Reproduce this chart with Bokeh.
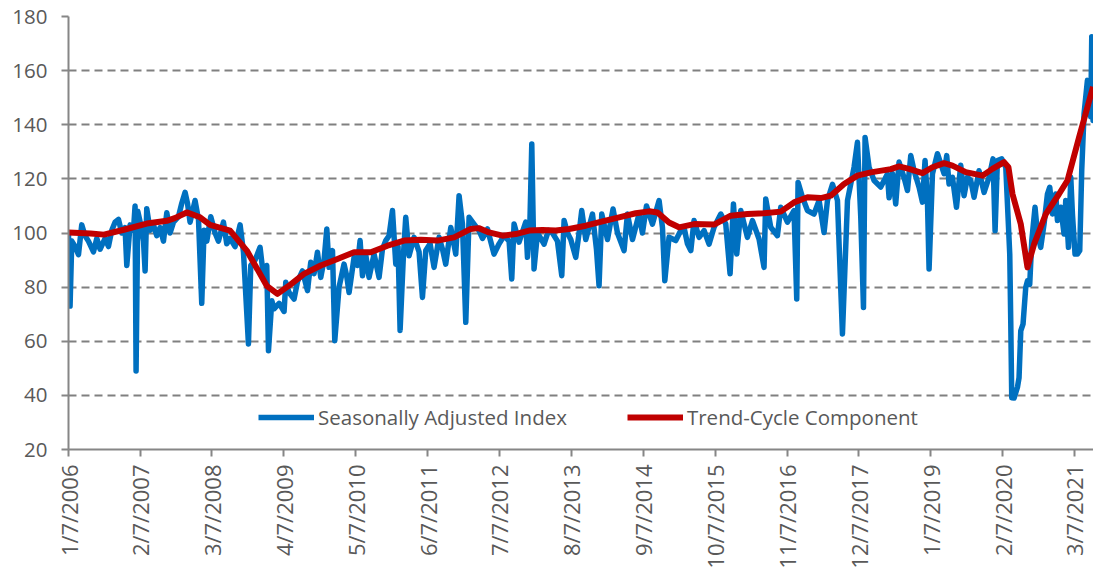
import math
import datetime
from bokeh.plotting import figure
from bokeh.models import Range1d, FixedTicker, Legend, LegendItem, CustomJSTickFormatter
from bokeh.embed import file_html
from bokeh.resources import INLINE

# ---------------- data (dates as decimal years) ----------------
tick_labels = ["1/7/2006", "2/7/2007", "3/7/2008", "4/7/2009", "5/7/2010", "6/7/2011",
               "7/7/2012", "8/7/2013", "9/7/2014", "10/7/2015", "11/7/2016", "12/7/2017",
               "1/7/2019", "2/7/2020", "3/7/2021"]

sa_year = [
    2006.016, 2006.040, 2006.066, 2006.115, 2006.167, 2006.216, 2006.266, 2006.317, 2006.393, 2006.443,
    2006.492, 2006.568, 2006.619, 2006.669, 2006.718, 2006.770, 2006.819, 2006.869, 2006.895, 2006.945,
    2006.996, 2007.020, 2007.035, 2007.061, 2007.106, 2007.147, 2007.171, 2007.196, 2007.246, 2007.297,
    2007.347, 2007.397, 2007.448, 2007.498, 2007.548, 2007.599, 2007.674, 2007.724, 2007.774, 2007.810,
    2007.849, 2007.924, 2007.976, 2008.025, 2008.060, 2008.101, 2008.161, 2008.226, 2008.277, 2008.352,
    2008.402, 2008.452, 2008.527, 2008.603, 2008.654, 2008.729, 2008.764, 2008.829, 2008.904, 2008.955,
    2009.005, 2009.031, 2009.081,
    2009.115, 2009.191, 2009.266, 2009.292, 2009.341, 2009.417, 2009.468, 2009.543, 2009.619, 2009.668,
    2009.718, 2009.769, 2009.819, 2009.869, 2009.910, 2009.944, 2009.996, 2010.030, 2010.095, 2010.170,
    2010.211, 2010.246, 2010.321, 2010.372, 2010.412, 2010.448, 2010.497, 2010.547, 2010.623, 2010.698,
    2010.749, 2010.799, 2010.849, 2010.900, 2010.950, 2010.984, 2011.015, 2011.066, 2011.100, 2011.150,
    2011.226, 2011.301, 2011.352, 2011.402, 2011.467, 2011.527, 2011.602, 2011.654, 2011.703, 2011.779,
    2011.854, 2011.904, 2011.955, 2012.005, 2012.055, 2012.130, 2012.205,
    2012.257, 2012.332, 2012.431, 2012.507, 2012.582, 2012.658, 2012.698, 2012.733, 2012.808, 2012.909,
    2012.935, 2012.969, 2013.000, 2013.034, 2013.086, 2013.135, 2013.185, 2013.252, 2013.312, 2013.387,
    2013.452, 2013.487, 2013.538, 2013.588, 2013.663, 2013.713, 2013.753, 2013.814, 2013.915, 2013.975,
    2014.014, 2014.055, 2014.141, 2014.225, 2014.292, 2014.391, 2014.442, 2014.518, 2014.617, 2014.668,
    2014.729, 2014.819, 2014.919, 2014.970, 2015.005, 2015.069, 2015.170, 2015.246,
    2015.295, 2015.347, 2015.397, 2015.446, 2015.522, 2015.597, 2015.672, 2015.748, 2015.849, 2015.924,
    2015.989, 2016.040, 2016.090, 2016.150, 2016.251, 2016.327, 2016.426, 2016.501, 2016.527, 2016.602,
    2016.703, 2016.753, 2016.854, 2016.953, 2016.994, 2017.014, 2017.080, 2017.156, 2017.255, 2017.331,
    2017.406, 2017.457, 2017.533, 2017.608, 2017.683, 2017.759, 2017.858, 2017.909, 2017.959, 2018.000,
    2018.024, 2018.084, 2018.160, 2018.260, 2018.361, 2018.386,
    2018.437, 2018.486, 2018.536, 2018.612, 2018.663, 2018.713, 2018.763, 2018.838, 2018.889, 2018.928,
    2018.964, 2018.989, 2019.040, 2019.115, 2019.165, 2019.215, 2019.255, 2019.290, 2019.341, 2019.402,
    2019.466, 2019.516, 2019.567, 2019.617, 2019.667, 2019.742, 2019.818, 2019.893, 2019.953, 2019.984,
    2020.019, 2020.085, 2020.145, 2020.205, 2020.220, 2020.235, 2020.270, 2020.321, 2020.345, 2020.371,
    2020.405, 2020.446, 2020.472, 2020.506, 2020.537, 2020.586, 2020.622, 2020.672, 2020.722, 2020.773,
    2020.808, 2020.849, 2020.898, 2020.924, 2020.974, 2021.024, 2021.049, 2021.090, 2021.125, 2021.150,
    2021.189, 2021.226, 2021.260, 2021.290, 2021.325, 2021.376, 2021.411, 2021.426, 2021.441, 2021.461,
    2021.486,
]
sa_index = [
    99.6, 73, 97, 95, 92, 103, 99, 97, 93, 98,
    94, 98, 95, 101, 104, 105, 100, 102, 88, 103,
    101, 110, 49, 108, 103, 97, 86, 109, 101, 103,
    99, 102, 97, 107.5, 100, 104, 106, 111, 115, 111,
    104, 112, 105, 74, 101, 97, 106, 100, 97, 104,
    96, 98, 95, 103, 93, 59, 88, 90, 94.7, 84,
    88, 56.5, 75,
    72, 74, 71, 81.8, 78, 75.6, 82, 86, 78.7, 89.2,
    85, 92.9, 83.6, 90, 101.5, 87.3, 93.5, 60.2, 80, 88.5,
    84, 78, 91, 88, 97.2, 84.2, 92, 83.6, 92.2, 83.6,
    94, 97.2, 99, 108.3, 88.5, 95, 64, 92.2, 105.8, 91.6,
    98.4, 93, 76.2, 93.5, 96, 87.3, 98.4, 94, 88.5, 102,
    92.2, 113.8, 103.3, 67, 105.8, 103.3, 100.9,
    98, 101.5, 92.2, 96, 99, 97, 83, 103.3, 96.6, 104,
    91, 101, 132.9, 86.7, 100, 98, 95.9, 101, 100, 97,
    84.2, 104.6, 100, 97.6, 91, 100, 108.3, 97.6, 107, 94,
    80.5, 107, 97.6, 108.9, 100, 93.5, 107, 97.6, 107, 100,
    110, 103.3, 112, 102, 82.4, 98.4, 97.2, 100.9,
    102.1, 96, 93.5, 104.6, 98.4, 100.9, 95.9, 102.1, 107, 103.3,
    84.9, 110.7, 92.2, 108.3, 98.4, 104.6, 97.8, 87.3, 112.6, 102.1,
    99, 109.5, 104, 108.3, 75.6, 118.7, 113.2, 108.3, 107, 112,
    100.2, 112, 118, 112, 62.7, 112, 124.3, 133.5, 106, 72.5,
    135.3, 124.3, 119.4, 117, 121.8, 113,
    122, 110.7, 126.2, 120.5, 115.7, 128.6, 123, 116.9, 111.4, 126.8,
    112, 86.7, 121.9, 129.3, 125.6, 121.9, 128.6, 118.1, 120.6, 109.5,
    125, 113.8, 120.6, 119.4, 113.2, 123, 115, 120.6, 127.4, 100.9,
    126.8, 127.4, 124.3, 92.2, 67.5, 39.1, 39, 43, 46.5, 63.8,
    66.3, 79.9, 82.3, 81, 97.2, 109.5, 99.9, 94.7, 103.3, 114.4,
    116.9, 107, 114.4, 104.6, 109.5, 99.6, 112, 94.7, 120.6, 107,
    92.2, 92.2, 93.5, 123.1, 144.1, 156.4, 156, 143, 172.5, 141.6,
    148,
]

trend_year = [
    2006.016, 2006.350, 2006.550, 2006.850, 2007.196, 2007.498, 2007.618, 2007.799, 2008.000, 2008.150,
    2008.452, 2008.704, 2009.005, 2009.166, 2009.367, 2009.567, 2009.819, 2010.071, 2010.321, 2010.573,
    2010.825, 2011.075, 2011.327, 2011.578, 2011.829, 2012.080, 2012.201, 2012.356, 2012.558, 2012.759,
    2012.959, 2013.161, 2013.362, 2013.562, 2013.814, 2014.065, 2014.316, 2014.567, 2014.768, 2014.895,
    2015.069, 2015.220, 2015.446, 2015.748, 2015.999, 2016.251, 2016.501, 2016.753, 2016.953, 2017.156,
    2017.356, 2017.507, 2017.707, 2017.909, 2018.110, 2018.411, 2018.536, 2018.687, 2018.889, 2019.040,
    2019.215, 2019.341, 2019.542, 2019.794, 2019.944, 2020.119, 2020.185, 2020.246, 2020.371, 2020.472,
    2020.572, 2020.748, 2020.948, 2021.075, 2021.250, 2021.461,
]
trend_cycle = [
    100.2, 99.8, 99.4, 101.2, 103.5, 104.5, 105.5, 107.6, 105.8, 103,
    100.9, 93.5, 80.5, 77.5, 81, 84.9, 88, 90.4, 92.9, 92.9,
    95.3, 97.2, 97.5, 97.2, 98.4, 101.5, 101.8, 100.2, 99, 99.6,
    100.9, 101.1, 100.9, 101.5, 102.7, 104.3, 105.8, 107.3, 108, 107.6,
    103.9, 102.1, 103.3, 103.1, 106.4, 107, 107.3, 107.9, 111.3, 113.2,
    112.9, 113.8, 118.1, 121.2, 122.4, 123.6, 124.6, 123.7, 122.1, 124.3,
    125.8, 124.9, 122.5, 121.2, 123.7, 126.2, 124.3, 114.4, 103.3, 87.3,
    95.9, 107, 114.4, 119.4, 135.4, 154,
]

assert len(sa_year) == len(sa_index)
assert len(trend_year) == len(trend_cycle)

y_ticks = [20, 40, 60, 80, 100, 120, 140, 160, 180]


def to_year(s):
    m, d, y = map(int, s.split("/"))
    return 2006 + (datetime.date(y, m, d) - datetime.date(2006, 1, 1)).days / 365.25


tick_pos = [to_year(s) for s in tick_labels]

FONT = "Open Sans"
TXT = "#595959"
x0 = to_year("1/7/2006")

p = figure(width=1093, height=571, output_backend="svg", toolbar_location=None,
           x_range=Range1d(x0, x0 + 15.451), y_range=Range1d(20, 180),
           min_border_left=68, min_border_right=0, min_border_top=16, min_border_bottom=122)
p.outline_line_color = None
p.background_fill_color = "white"

# y axis
p.yaxis.ticker = FixedTicker(ticks=y_ticks)
p.yaxis.axis_line_color = "#868686"
p.yaxis.axis_line_width = 2
p.yaxis.major_tick_line_color = "#868686"
p.yaxis.major_tick_line_width = 2
p.yaxis.major_tick_out = 7
p.yaxis.major_tick_in = 0
p.yaxis.minor_tick_line_color = None
p.yaxis.major_label_standoff = 14
p.yaxis.major_label_text_font = FONT
p.yaxis.major_label_text_font_size = "20.5px"
p.yaxis.major_label_text_color = TXT

# x axis
p.xaxis.ticker = FixedTicker(ticks=tick_pos)
p.xaxis.formatter = CustomJSTickFormatter(args=dict(pos=tick_pos, labels=tick_labels), code="""
    let best = 0;
    for (let i = 0; i < pos.length; i++) {
        if (Math.abs(pos[i] - tick) < Math.abs(pos[best] - tick)) { best = i; }
    }
    return labels[best];
""")
p.xaxis.major_label_orientation = math.pi / 2
p.xaxis.axis_line_color = "#868686"
p.xaxis.axis_line_width = 2
p.xaxis.major_tick_line_color = "#868686"
p.xaxis.major_tick_line_width = 2
p.xaxis.major_tick_out = 7
p.xaxis.major_tick_in = 0
p.xaxis.minor_tick_line_color = None
p.xaxis.major_label_standoff = 8
p.xaxis.major_label_text_font = FONT
p.xaxis.major_label_text_font_size = "22px"
p.xaxis.major_label_text_color = TXT

# grid
p.xgrid.visible = False
p.ygrid.ticker = FixedTicker(ticks=y_ticks)
p.ygrid.grid_line_color = "#808080"
p.ygrid.grid_line_width = 2
p.ygrid.grid_line_dash = "8 5"

blue = p.line(sa_year, sa_index, line_color="#0070C0", line_width=5.5, line_join="round")
red = p.line(trend_year, trend_cycle, line_color="#C00000", line_width=6, line_join="round")

legend = Legend(items=[LegendItem(label="Seasonally Adjusted Index", renderers=[blue]),
                       LegendItem(label="Trend-Cycle Component", renderers=[red])],
                orientation="horizontal", location=(190, 18),
                glyph_width=56, glyph_height=22, label_standoff=4, spacing=60,
                padding=0, margin=0, background_fill_alpha=0, border_line_color=None,
                label_text_font=FONT, label_text_font_size="20.5px", label_text_color=TXT)
p.add_layout(legend)

open("out.html", "w").write(file_html(p, INLINE))
